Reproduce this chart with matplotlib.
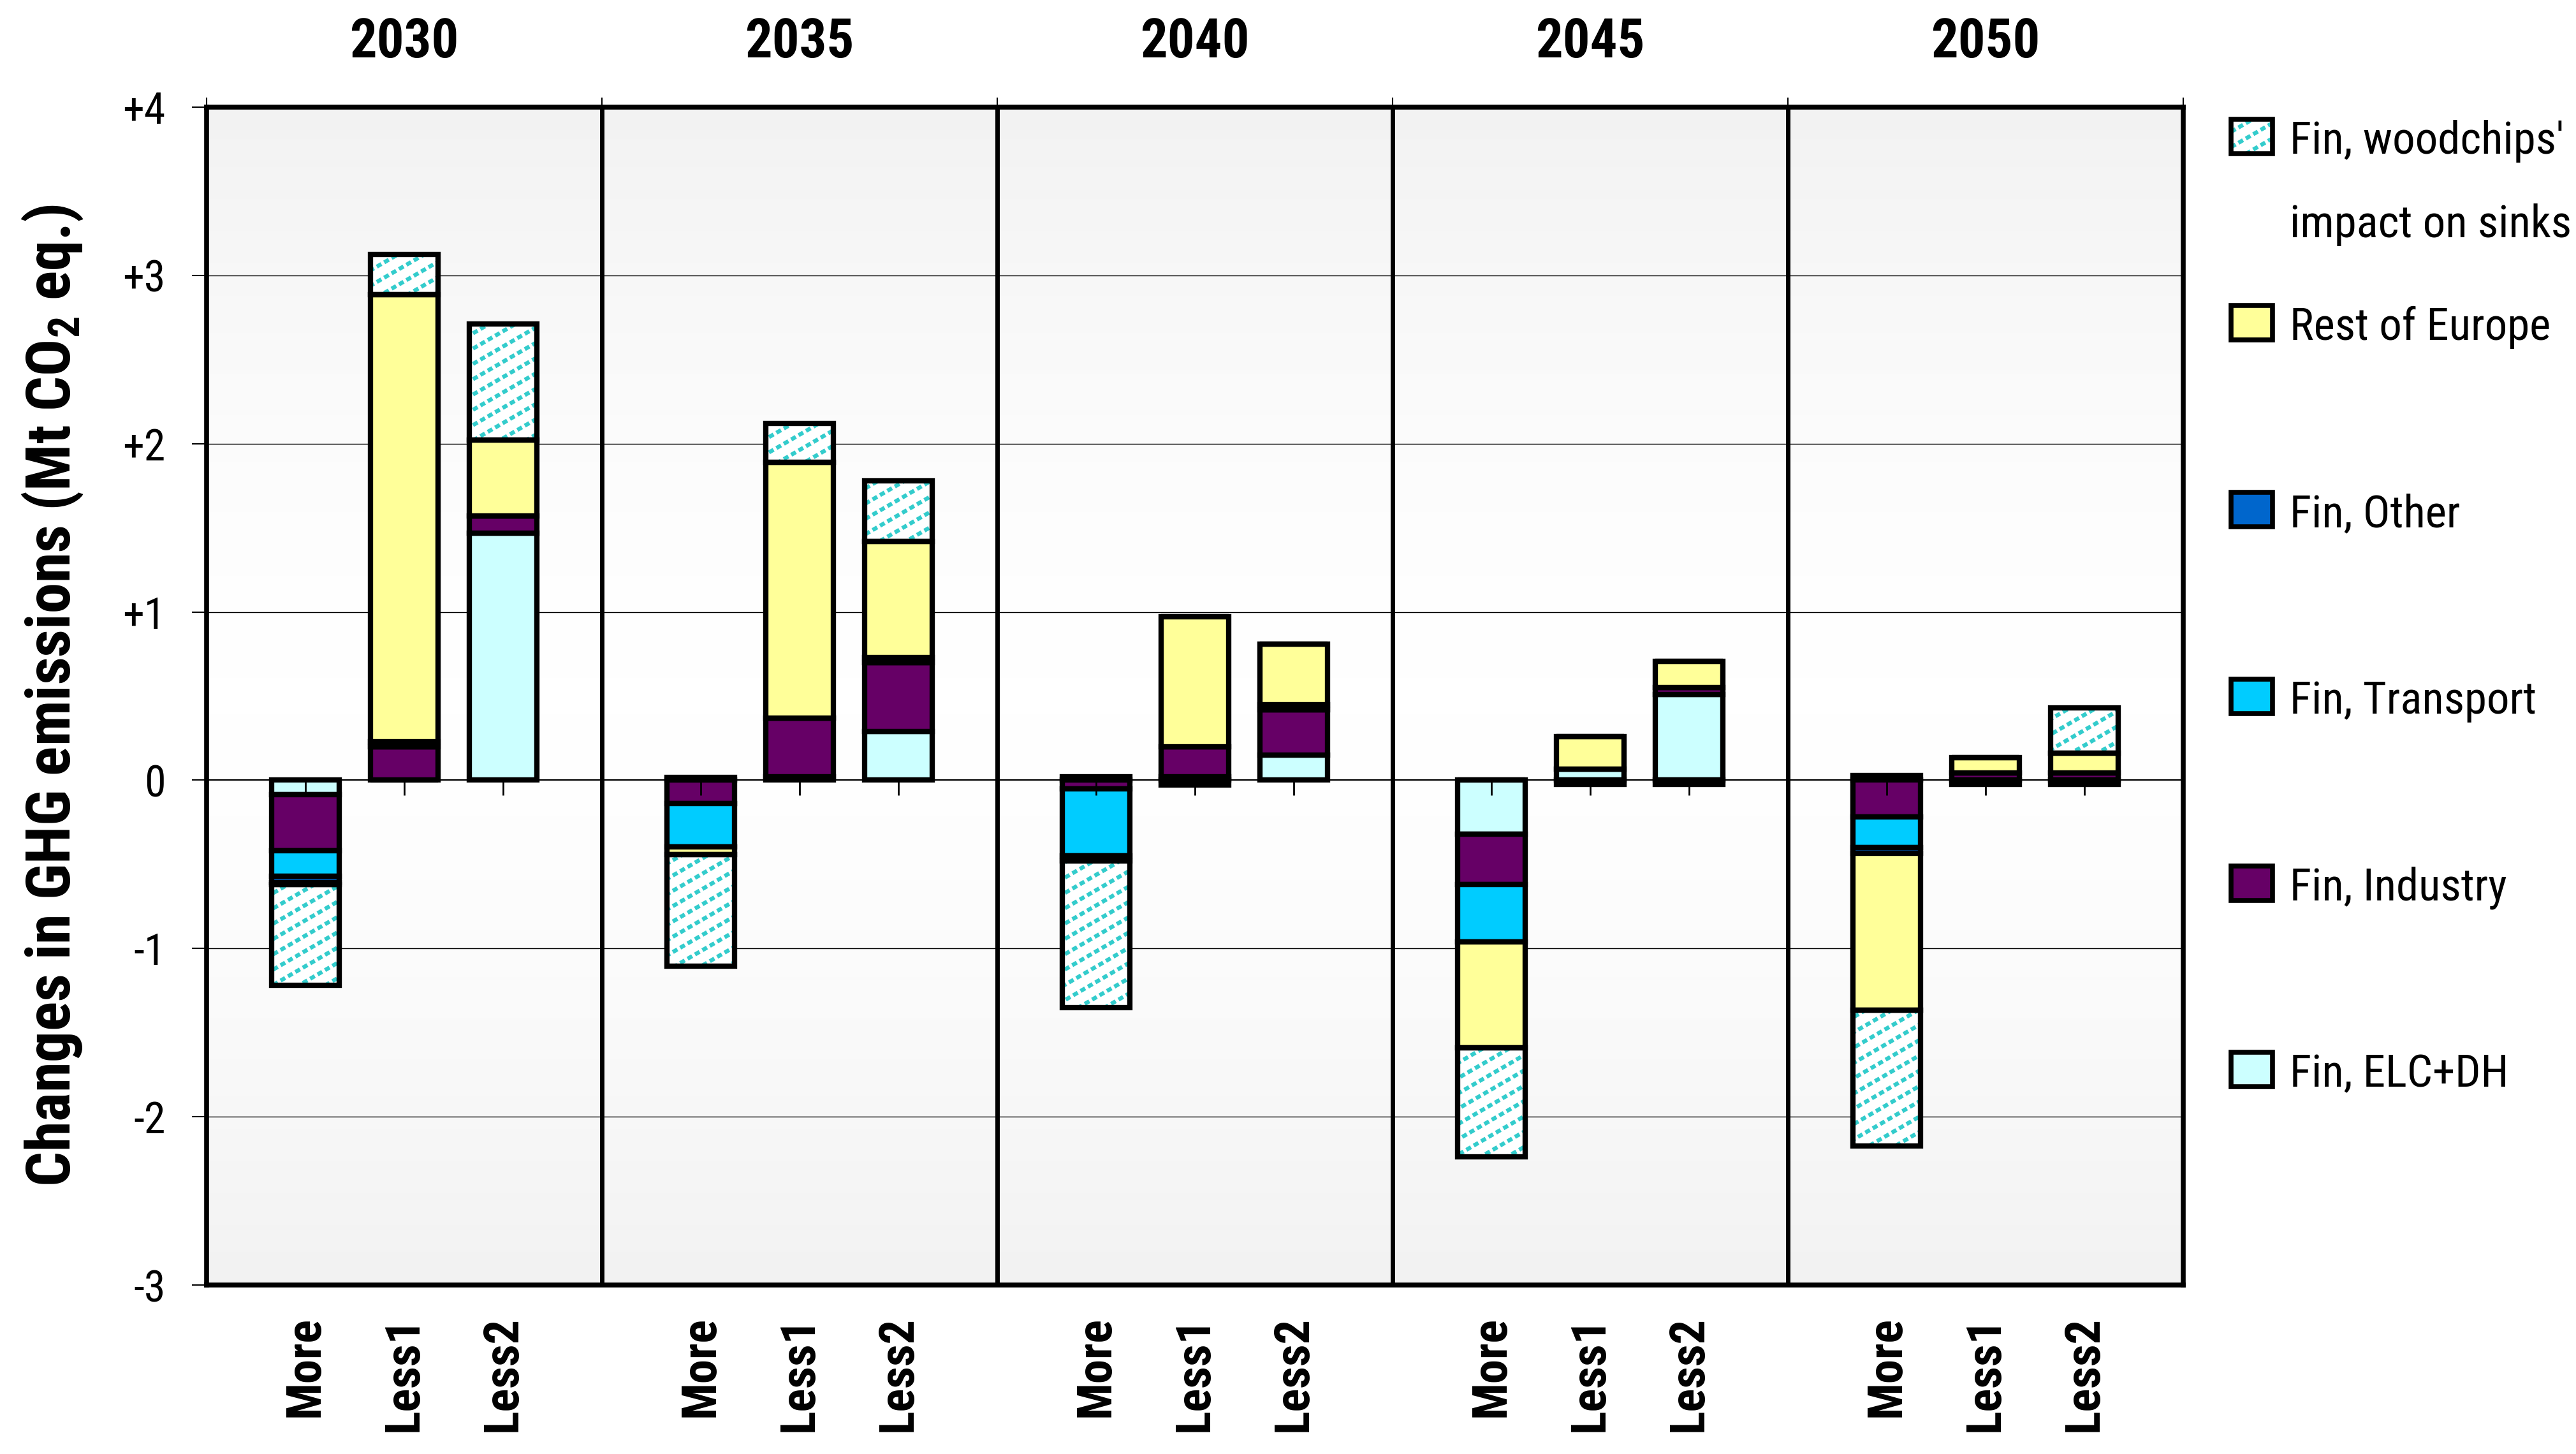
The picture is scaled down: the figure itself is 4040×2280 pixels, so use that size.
import numpy as np
import matplotlib.pyplot as plt
from matplotlib import font_manager
from matplotlib.patches import Rectangle
from matplotlib.collections import LineCollection
from matplotlib.colors import LinearSegmentedColormap

# the original uses a narrow Arial-like face; take the narrowest one installed
installed = {f.name for f in font_manager.fontManager.ttflist}
font = 'Liberation Sans'
shrink = 0.84
for cand, sc in [('Liberation Sans Narrow', 1.0), ('Arial Narrow', 1.0),
                 ('Roboto Condensed', 1.0), ('Open Sans Condensed', 0.95)]:
    if cand in installed:
        font, shrink = cand, sc
        break

plt.rcParams['font.family'] = [font, 'DejaVu Sans']
plt.rcParams['mathtext.fontset'] = 'custom'
plt.rcParams['mathtext.rm'] = font + ':bold'
plt.rcParams['mathtext.bf'] = font + ':bold'

years = ['2030', '2035', '2040', '2045', '2050']
scenarios = ['More', 'Less1', 'Less2']

# one value per bar: 2030 More, Less1, Less2, 2035 More, ... (Mt CO2 eq.)
elc_dh = [-0.085, 0.0, 1.47, 0.0, 0.02, 0.29, 0.0, 0.02, 0.15, -0.32, 0.065, 0.51, 0.03, 0.0, 0.0]
industry = [-0.335, 0.2, 0.10, -0.14, 0.35, 0.41, -0.05, 0.18, 0.27, -0.30, 0.0, 0.04, -0.22, 0.045, 0.045]
transport = [-0.15, 0.0, 0.0, -0.255, 0.0, 0.0, -0.40, -0.03, 0.0, -0.34, -0.025, -0.025, -0.18, -0.025, -0.025]
other = [-0.04, 0.03, 0.0, 0.015, 0.0, 0.03, 0.02, 0.0, 0.03, 0.0, 0.0, 0.0, -0.035, 0.0, 0.0]
rest_europe = [-0.01, 2.655, 0.45, -0.045, 1.52, 0.69, -0.03, 0.77, 0.36, -0.63, 0.195, 0.155, -0.93, 0.09, 0.115]
woodchips = [-0.60, 0.24, 0.69, -0.665, 0.23, 0.36, -0.87, 0.0, 0.0, -0.65, 0.0, 0.0, -0.81, 0.0, 0.27]

labels = ['Fin, ELC+DH', 'Fin, Industry', 'Fin, Transport', 'Fin, Other',
          'Rest of Europe', "Fin, woodchips'\nimpact on sinks"]
colors = ['#CCFFFF', '#660066', '#00CCFF', '#0066CC', '#FFFF99', 'white']
series = [elc_dh, industry, transport, other, rest_europe, woodchips]
hatch_color = '#33CCCC'

W, H = 4041, 2280
AX_L, AX_T, AX_W, AX_H = 324, 168, 3100, 1847
fig = plt.figure(figsize=(W / 100, H / 100), dpi=100)
ax = fig.add_axes([AX_L / W, 1 - (AX_T + AX_H) / H, AX_W / W, AX_H / H])

x = np.array([4 * i + j + 1 for i in range(len(years)) for j in range(3)], dtype=float)
width = 0.68
edge_lw = 6


def hatch_lines(w_px, h_px, step=24, slope=0.58):
    # shallow dashed diagonals like the original fill pattern, in pixel units
    segs = []
    for y0 in np.arange(-slope * w_px, h_px + step, step):
        segs.append([(0, y0), (w_px, y0 + slope * w_px)])
    return np.array(segs, dtype=float)


def add_hatch(clip_patch, segs, transform, parent):
    lc = LineCollection(segs, colors=hatch_color, linewidths=4.6,
                        linestyles=(0, (1.3, 0.8)), transform=transform, zorder=2.5)
    parent.add_collection(lc) if parent is not fig else fig.add_artist(lc)
    lc.set_clip_path(clip_patch)


# background gradient, grey top and bottom, white in the middle
grad = np.abs(np.linspace(-1, 1, 256))[:, None] ** 1.6
cmap = LinearSegmentedColormap.from_list('bg', ['white', '#F2F2F2'])
ax.imshow(grad, extent=[0, 20, -3, 4], aspect='auto', cmap=cmap, zorder=0,
          vmin=0, vmax=1)

ax_segs = hatch_lines(AX_W, AX_H)
ax_segs[:, :, 0] /= AX_W
ax_segs[:, :, 1] /= AX_H

pos = np.zeros(len(x))
neg = np.zeros(len(x))
for vals, col, lab in zip(series, colors, labels):
    v = np.array(vals)
    bottom = np.where(v >= 0, pos, neg)
    if lab.startswith("Fin, woodchips"):
        fills = ax.bar(x, v, width, bottom=bottom, color='white', linewidth=0, zorder=2)
        for rect, val in zip(fills, v):
            if val != 0:
                add_hatch(rect, ax_segs, ax.transAxes, ax)
        ax.bar(x, v, width, bottom=bottom, fill=False, edgecolor='black',
               linewidth=edge_lw, zorder=3)
    else:
        ax.bar(x, v, width, bottom=bottom, color=col, edgecolor='black',
               linewidth=edge_lw, zorder=3)
    pos = pos + np.where(v >= 0, v, 0)
    neg = neg + np.where(v < 0, v, 0)

# zero line with tick marks at bar centres
ax.axhline(0, color='black', lw=1.5, zorder=1)
ax.plot(x, np.zeros(len(x)), ls='none', marker=3, markersize=17, mew=2,
        color='black', zorder=4)

for b in [4, 8, 12, 16]:
    ax.axvline(b, color='black', lw=5, zorder=4)

ax.set_xlim(0, 20)
ax.set_ylim(-3, 4)
ax.set_yticks(range(-3, 5))
ax.set_yticklabels(['-3', '-2', '-1', '0', '+1', '+2', '+3', '+4'])
ax.tick_params(axis='y', length=16.5, width=1.5, pad=30, labelsize=49 * shrink)
ax.set_xticks([0, 4, 8, 12, 16, 20])
ax.tick_params(axis='x', bottom=False, top=True, labelbottom=False,
               labeltop=False, length=11, width=1.5)
ax.yaxis.grid(True, color='black', lw=1.0)
ax.set_axisbelow(True)
for s in ax.spines.values():
    s.set_linewidth(5.5)
    s.set_zorder(5)

for i, yr in enumerate(years):
    ax.text(4 * i + 2, 1.055, yr, transform=ax.get_xaxis_transform(),
            ha='center', va='center', fontsize=61 * shrink, fontweight='bold')
for xi, k in zip(x, range(len(x))):
    ax.text(xi, -0.0265, scenarios[k % 3], transform=ax.get_xaxis_transform(),
            ha='center', va='top', rotation=90, fontsize=55 * shrink,
            fontweight='bold')

fig.text(82 / W, 1 - 1091 / H, r'Changes in GHG emissions (Mt CO$_\mathbf{2}$ eq.)',
         rotation=90, ha='center', va='center', fontsize=69.5 * shrink,
         fontweight='bold')

# legend, drawn by hand to keep the original spacing
leg_y = [214, 506, 799, 1092, 1385, 1677]
PW, PH = 65, 54
leg_segs = hatch_lines(PW, PH, step=24)
for yc, col, lab in zip(leg_y, colors[::-1], labels[::-1]):
    x0, y0 = 3499 / W, 1 - (yc + PH / 2) / H
    box = Rectangle((x0, y0), PW / W, PH / H, transform=fig.transFigure,
                    facecolor=col, edgecolor='none')
    fig.add_artist(box)
    if col == 'white':
        segs = leg_segs.copy()
        segs[:, :, 0] = x0 + segs[:, :, 0] / W
        segs[:, :, 1] = y0 + segs[:, :, 1] / H
        add_hatch(box, segs, fig.transFigure, fig)
    fig.add_artist(Rectangle((x0, y0), PW / W, PH / H, transform=fig.transFigure,
                             fill=False, edgecolor='black', lw=5.5, zorder=3))
    for n, line in enumerate(lab.split('\n')):
        fig.text(3591 / W, 1 - (yc + PH / 2 + 131 * n) / H, line, ha='left',
                 va='baseline', fontsize=51 * shrink)

fig.savefig('out.png', dpi=100)
